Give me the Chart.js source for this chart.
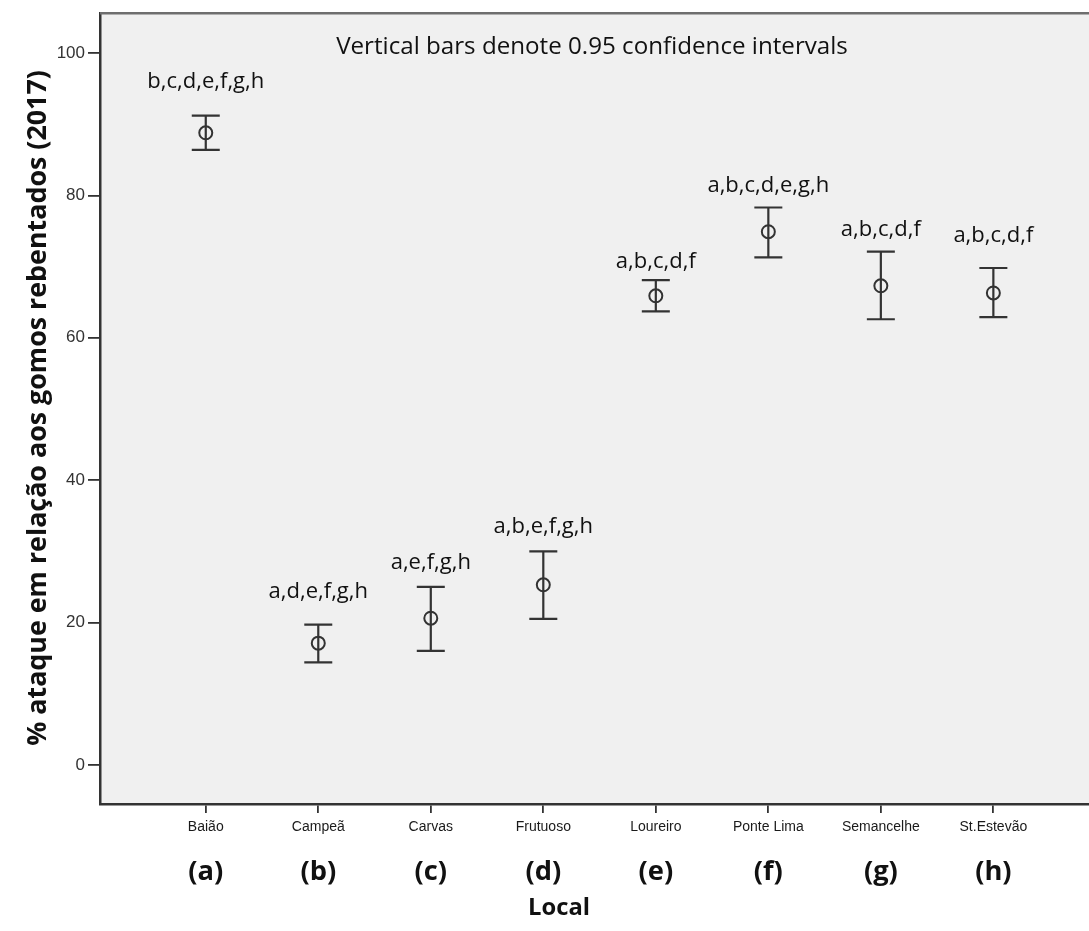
<!DOCTYPE html>
<html><head><meta charset="utf-8">
<script src="https://cdn.jsdelivr.net/npm/chart.js@4/dist/chart.umd.min.js"></script>
<style>html,body{margin:0;padding:0;background:#fff}canvas{display:block}</style>
</head><body>
<canvas id="c" width="1089" height="931"></canvas>
<script>
const categories = ['Baião','Campeã','Carvas','Frutuoso','Loureiro','Ponte Lima','Semancelhe','St.Estevão'];
const codes = ['(a)','(b)','(c)','(d)','(e)','(f)','(g)','(h)'];
const means = [88.8, 17.1, 20.6, 25.3, 65.9, 74.9, 67.3, 66.3];
const lower = [86.4, 14.4, 16.0, 20.5, 63.7, 71.3, 62.6, 62.9];
const upper = [91.2, 19.7, 25.0, 30.0, 68.1, 78.3, 72.1, 69.8];
const groups = ['b,c,d,e,f,g,h','a,d,e,f,g,h','a,e,f,g,h','a,b,e,f,g,h','a,b,c,d,f','a,b,c,d,e,g,h','a,b,c,d,f','a,b,c,d,f'];
const yTicks = [0, 20, 40, 60, 80, 100];
const yTitle = '% ataque em relação aos gomos rebentados (2017)';
const xTitle = 'Local';
const note = 'Vertical bars denote 0.95 confidence intervals';

// layout-only: gap (px) between CI top and group label centre
const labelGaps = [34, 33, 24, 25, 18, 22, 22, 32];

const DARK = '#333333';
const SANS = '"Open Sans", "Noto Sans", sans-serif';

function fitFont(ctx, text, weight, family, target) {
  ctx.font = weight + ' 100px ' + family;
  const w = ctx.measureText(text).width;
  return weight + ' ' + (100 * target / w).toFixed(2) + 'px ' + family;
}

const decor = {
  id: 'decor',
  afterLayout(chart) {
    // let the plot area run to the right edge of the canvas, as in the original
    const a = chart.chartArea, xs = chart.scales.x;
    a.right = chart.width; a.width = a.right - a.left;
    xs.right = chart.width; xs.width = xs.right - xs.left;
    xs.configure();
  },
  beforeDraw(chart) {
    const {ctx, chartArea: a} = chart;
    ctx.save();
    ctx.fillStyle = '#ffffff';
    ctx.fillRect(0, 0, chart.width, chart.height);
    ctx.fillStyle = '#f0f0f0';
    ctx.fillRect(a.left, a.top, a.right - a.left, a.bottom - a.top);
    ctx.restore();
  },
  beforeDatasetsDraw(chart) {
    const {ctx} = chart;
    const xs = chart.scales.x, ys = chart.scales.y;
    ctx.save();
    ctx.strokeStyle = DARK;
    ctx.lineWidth = 2.2;
    categories.forEach((c, i) => {
      const x = xs.getPixelForValue(i);
      const yl = ys.getPixelForValue(lower[i]);
      const yu = ys.getPixelForValue(upper[i]);
      ctx.beginPath();
      ctx.moveTo(x, yl); ctx.lineTo(x, yu);
      ctx.moveTo(x - 14, yu); ctx.lineTo(x + 14, yu);
      ctx.moveTo(x - 14, yl); ctx.lineTo(x + 14, yl);
      ctx.stroke();
    });
    ctx.restore();
  },
  afterDraw(chart) {
    const {ctx, chartArea: a} = chart;
    const xs = chart.scales.x, ys = chart.scales.y;
    ctx.save();
    // top frame
    ctx.strokeStyle = '#6e6e6e';
    ctx.lineWidth = 2.5;
    ctx.beginPath();
    ctx.moveTo(a.left, a.top); ctx.lineTo(a.right, a.top);
    ctx.stroke();
    ctx.fillStyle = '#111';
    ctx.textAlign = 'center';
    ctx.textBaseline = 'middle';
    // note
    ctx.font = fitFont(ctx, note, '400', SANS, 512);
    ctx.fillText(note, 592, 47);
    // group labels
    ctx.font = fitFont(ctx, 'b,c,d,e,f,g,h', '400', SANS, 117);
    categories.forEach((c, i) => {
      const x = xs.getPixelForValue(i);
      const yu = ys.getPixelForValue(upper[i]);
      ctx.fillText(groups[i], x, yu - labelGaps[i]);
    });
    // codes
    ctx.font = fitFont(ctx, '(a)', '700', SANS, 35);
    categories.forEach((c, i) => {
      ctx.fillText(codes[i], xs.getPixelForValue(i), 872);
    });
    // x title
    ctx.font = fitFont(ctx, xTitle, '700', SANS, 62);
    ctx.fillText(xTitle, 559, 908);
    // y title
    ctx.translate(38, 408);
    ctx.rotate(-Math.PI / 2);
    ctx.font = fitFont(ctx, yTitle, '700', SANS, 676);
    ctx.fillText(yTitle, 0, 0);
    ctx.restore();
  }
};

new Chart(document.getElementById('c'), {
  type: 'scatter',
  data: {
    datasets: [{
      data: means.map((m, i) => ({x: i, y: m})),
      pointStyle: 'circle',
      pointRadius: 6.5,
      pointHoverRadius: 6.5,
      pointBackgroundColor: 'rgba(0,0,0,0)',
      pointBorderColor: DARK,
      pointBorderWidth: 2,
      showLine: false
    }]
  },
  options: {
    responsive: false,
    animation: false,
    devicePixelRatio: 1,
    layout: {padding: {top: 13, left: 0, right: 0, bottom: 0}},
    plugins: {legend: {display: false}, tooltip: {enabled: false}},
    scales: {
      x: {
        type: 'linear',
        min: -0.94, max: 7.85,
        afterBuildTicks: s => { s.ticks = categories.map((c, i) => ({value: i})); },
        afterFit: s => { s.height = 127; s.paddingLeft = 0; s.paddingRight = 0; },
        ticks: {
          callback: v => categories[v],
          autoSkip: false, maxRotation: 0, minRotation: 0,
          color: '#1a1a1a',
          font: {family: '"Liberation Sans", Arial, sans-serif', size: 14},
          padding: 6
        },
        grid: {drawOnChartArea: false, drawTicks: true, tickLength: 9, color: DARK, lineWidth: 1.8},
        border: {display: true, color: DARK, width: 2.5}
      },
      y: {
        min: -5.5, max: 105.6,
        afterBuildTicks: s => { s.ticks = yTicks.map(v => ({value: v})); },
        afterFit: s => { s.width = 100; },
        ticks: {
          color: '#333',
          font: {family: '"Liberation Sans", Arial, sans-serif', size: 17},
          padding: 3
        },
        grid: {drawOnChartArea: false, drawTicks: true, tickLength: 12, color: DARK, lineWidth: 1.8},
        border: {display: true, color: DARK, width: 2.5}
      }
    }
  },
  plugins: [decor]
});
</script>
</body></html>
